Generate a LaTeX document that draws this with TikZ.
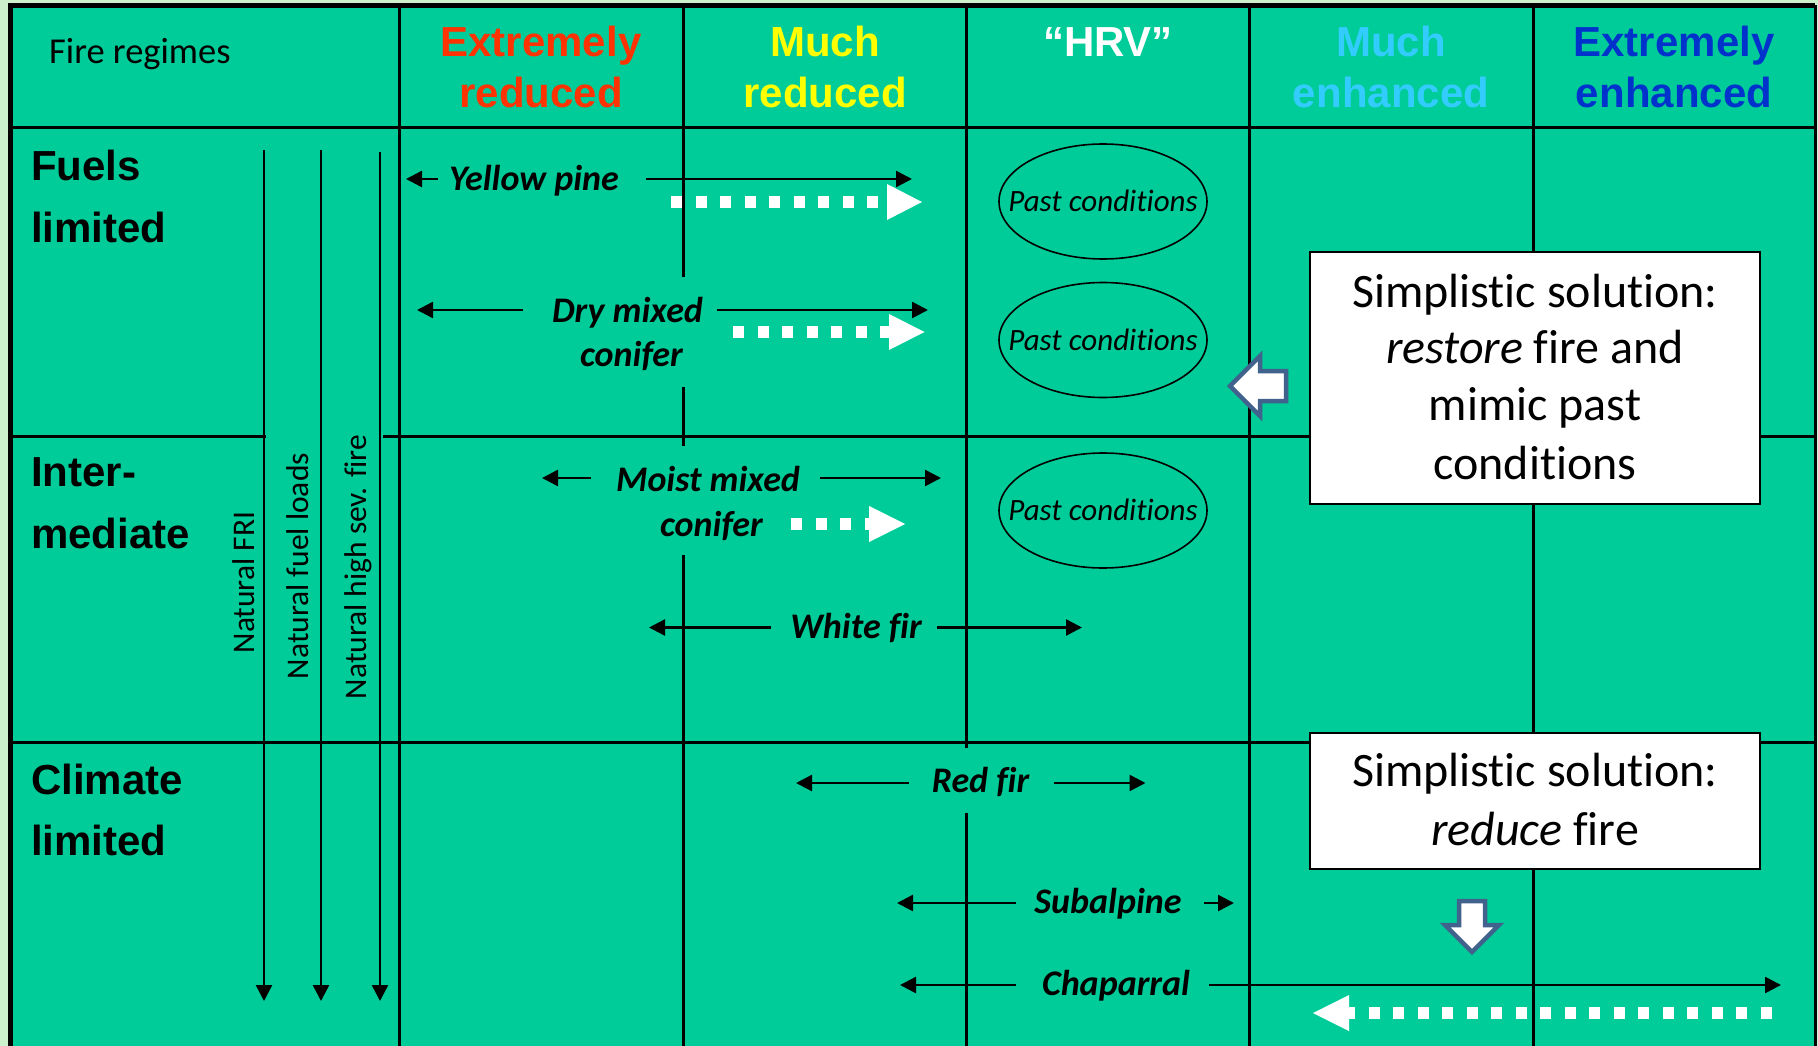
\documentclass[tikz,border=0pt]{standalone}
\usepackage{fontspec}
\setmainfont{Carlito}[Ligatures={TeX,NoCommon}]
\newfontfamily\arialfont{Liberation Sans}[Ligatures={TeX,NoCommon}]
\usetikzlibrary{arrows.meta,shapes.geometric}
\definecolor{bggreen}{RGB}{0,204,153}
\definecolor{margingreen}{RGB}{204,240,204}
\definecolor{exred}{RGB}{255,51,0}
\definecolor{myyellow}{RGB}{255,255,0}
\definecolor{ltblue}{RGB}{51,204,255}
\definecolor{dkblue}{RGB}{0,51,204}
\definecolor{arrowedge}{RGB}{65,98,141}
\begin{document}
\begin{tikzpicture}[x=1pt,y=-1pt,
  grid/.style={line width=3pt},
  hdr/.style={font=\arialfont\bfseries\fontsize{42}{42}\selectfont, anchor=base, inner sep=0pt},
  rowlab/.style={font=\arialfont\bfseries\fontsize{42}{42}\selectfont, anchor=base west, inner sep=0pt},
  plainlab/.style={font=\fontsize{36.5}{36.5}\selectfont, anchor=base west, inner sep=0pt},
  spec/.style={font=\bfseries\itshape\fontsize{36}{36}\selectfont, anchor=base, inner sep=0pt},
  natlab/.style={font=\fontsize{31.5}{31.5}\selectfont, rotate=90, anchor=base, inner sep=0pt},
  pastell/.style={draw, ellipse, line width=1.6pt, minimum width=208, minimum height=115, inner sep=0pt},
  past/.style={font=\itshape\fontsize{31}{31}\selectfont, anchor=base, inner sep=0pt},
  solbox/.style={draw, fill=white, line width=2pt, minimum width=450, inner sep=0pt},
  soltext/.style={font=\fontsize{48}{48}\selectfont, anchor=base, inner sep=0pt},
  blk/.style={line width=2.5pt, -{Triangle[length=16pt,width=16pt]}},
  wdash/.style={white, line width=12.5pt, dash pattern=on 11pt off 13.5pt},
  whead/.style={fill=white},
  blockarrow/.style={fill=white, draw=arrowedge, line width=4.5pt, line join=miter}
]
\useasboundingbox (0,0) rectangle (1818,1046);
% backgrounds
\fill[margingreen] (0,0) rectangle (1818,1046);
\fill[bggreen] (10,5) rectangle (1816,1046);

% outer border
\draw[line width=5pt] (10.5,1046) -- (10.5,5.5) -- (1815,5.5);
\draw[grid] (1815,5.5) -- (1815,1046);

% horizontal grid lines
\draw[grid] (10,128) -- (1815,128);
\draw[grid] (10,436) -- (266,436);
\draw[grid] (383,436) -- (1815,436);
\draw[grid] (10,742) -- (1815,742);

% vertical grid lines
\draw[grid] (399,5) -- (399,1046);
\draw[grid] (683,5) -- (683,277);
\draw[grid] (683,387) -- (683,446);
\draw[grid] (683,555) -- (683,1046);
\draw[grid] (966,5) -- (966,748);
\draw[grid] (966,813) -- (966,1046);
\draw[grid] (1249,5) -- (1249,1046);
\draw[grid] (1533,5) -- (1533,1046);

% header
\node[plainlab] (fr) at (49,64) {Fire regimes};
\node[hdr, text=exred] (h1a) at (541,57) {Extremely};
\node[hdr, text=exred] (h1b) at (541,108) {reduced};
\node[hdr, text=myyellow] (h2a) at (825,57) {Much};
\node[hdr, text=myyellow] (h2b) at (825,108) {reduced};
\node[hdr, text=white] (h3) at (1108,57) {“HRV”};
\node[hdr, text=ltblue] (h4a) at (1391,57) {Much};
\node[hdr, text=ltblue] (h4b) at (1391,108) {enhanced};
\node[hdr, text=dkblue] (h5a) at (1674,57) {Extremely};
\node[hdr, text=dkblue] (h5b) at (1674,108) {enhanced};

% row labels
\node[rowlab] (fl1) at (31,180) {Fuels};
\node[rowlab] (fl2) at (31,242) {limited};
\node[rowlab] (im1) at (31,486) {Inter-};
\node[rowlab] (im2) at (31,548) {mediate};
\node[rowlab] (cl1) at (31,794) {Climate};
\node[rowlab] (cl2) at (31,855) {limited};

% vertical "natural" arrows
\coordinate (n1s) at (264,150); \coordinate (n1e) at (264,1001);
\coordinate (n2s) at (321,150); \coordinate (n2e) at (321,1001);
\coordinate (n3s) at (380,152); \coordinate (n3e) at (380,1001);
\draw[blk] (n1s) -- (n1e);
\draw[blk] (n2s) -- (n2e);
\draw[blk] (n3s) -- (n3e);
\node[natlab] (nfri) at (254,582.5) {Natural FRI};
\node[natlab] (nfuel) at (308,566) {Natural fuel loads};
\node[natlab] (nsev) at (366,567) {Natural high sev. fire};

% species labels
\node[spec] (yp) at (534,190) {Yellow pine};
\node[spec] (dm1) at (627.5,322) {Dry mixed};
\node[spec] (dm2) at (631.5,366) {conifer};
\node[spec] (mm1) at (708,491) {Moist mixed};
\node[spec] (mm2) at (711.5,536) {conifer};
\node[spec] (wf) at (856,638) {White fir};
\node[spec] (rf) at (980.5,792) {Red fir};
\node[spec] (sa) at (1108,913) {Subalpine};
\node[spec] (ch) at (1116,995) {Chaparral};

% species range arrows
\coordinate (ypl) at (437.5,179); \coordinate (ypL) at (406,179);
\coordinate (ypr) at (646,179);   \coordinate (ypR) at (912,179);
\coordinate (dml) at (523,310);   \coordinate (dmL) at (417,310);
\coordinate (dmr) at (717,310);   \coordinate (dmR) at (928,310);
\coordinate (mml) at (591,478);   \coordinate (mmL) at (542,478);
\coordinate (mmr) at (820,478);   \coordinate (mmR) at (941,478);
\coordinate (wfl) at (771,627.5); \coordinate (wfL) at (649,627.5);
\coordinate (wfr) at (937,627.5); \coordinate (wfR) at (1082,627.5);
\coordinate (rfl) at (909,783);   \coordinate (rfL) at (796,783);
\coordinate (rfr) at (1054,783);  \coordinate (rfR) at (1145.5,783);
\coordinate (sal) at (1016,903);  \coordinate (saL) at (897,903);
\coordinate (sar) at (1204,903);  \coordinate (saR) at (1234,903);
\coordinate (chl) at (1016,985);  \coordinate (chL) at (900,985);
\coordinate (chr) at (1209,985);  \coordinate (chR) at (1781,985);
\foreach \a in {yp,dm,mm,wf,rf,sa,ch}{
  \draw[blk] (\a l) -- (\a L);
  \draw[blk] (\a r) -- (\a R);
}

% white dotted arrows
\coordinate (w1s) at (671,202);  \coordinate (w1b) at (887,202);
\coordinate (w2s) at (733,332);  \coordinate (w2b) at (889,332);
\coordinate (w3s) at (791,524);  \coordinate (w3b) at (869,524);
\coordinate (w4s) at (1771.5,1013); \coordinate (w4b) at (1349,1013);
\draw[wdash] (w1s) -- (w1b);
\draw[wdash] (w2s) -- (w2b);
\draw[wdash] (w3s) -- (w3b);
\draw[wdash] (w4s) -- (w4b);
\fill[whead] (922,202) -- (887,184) -- (887,220) -- cycle;
\fill[whead] (924.5,332) -- (889,314) -- (889,350) -- cycle;
\fill[whead] (905,524) -- (869,506) -- (869,542) -- cycle;
\fill[whead] (1313,1013) -- (1349,995) -- (1349,1031) -- cycle;

% past conditions ellipses
\node[pastell] (pc1) at (1103,201.5) {};
\node[pastell] (pc2) at (1103,340) {};
\node[pastell] (pc3) at (1103,510.5) {};
\node[past] (pc1t) at ([yshift=-10pt]pc1.center) {Past conditions};
\node[past] (pc2t) at ([yshift=-10pt]pc2.center) {Past conditions};
\node[past] (pc3t) at ([yshift=-10pt]pc3.center) {Past conditions};

% solution boxes
\node[solbox, minimum height=252] (sol1) at (1535,378) {};
\node[soltext] (s1a) at (1535,307) {Simplistic solution:};
\node[soltext] (s1b) at (1535,363) {\textit{restore} fire and};
\node[soltext] (s1c) at (1535,420) {mimic past};
\node[soltext] (s1d) at (1535,479) {conditions};
\node[solbox, minimum height=136] (sol2) at (1535,801) {};
\node[soltext] (s2a) at (1535,786) {Simplistic solution:};
\node[soltext] (s2b) at (1535,845) {\textit{reduce} fire};

% block arrows
\draw[blockarrow] (1230,386) -- (1260,356) -- (1260,371) -- (1286,371) -- (1286,401) -- (1260,401) -- (1260,416) -- cycle;
\draw[blockarrow] (1472,952) -- (1445,925) -- (1459,925) -- (1459,901) -- (1485,901) -- (1485,925) -- (1499,925) -- cycle;
\end{tikzpicture}
\end{document}
